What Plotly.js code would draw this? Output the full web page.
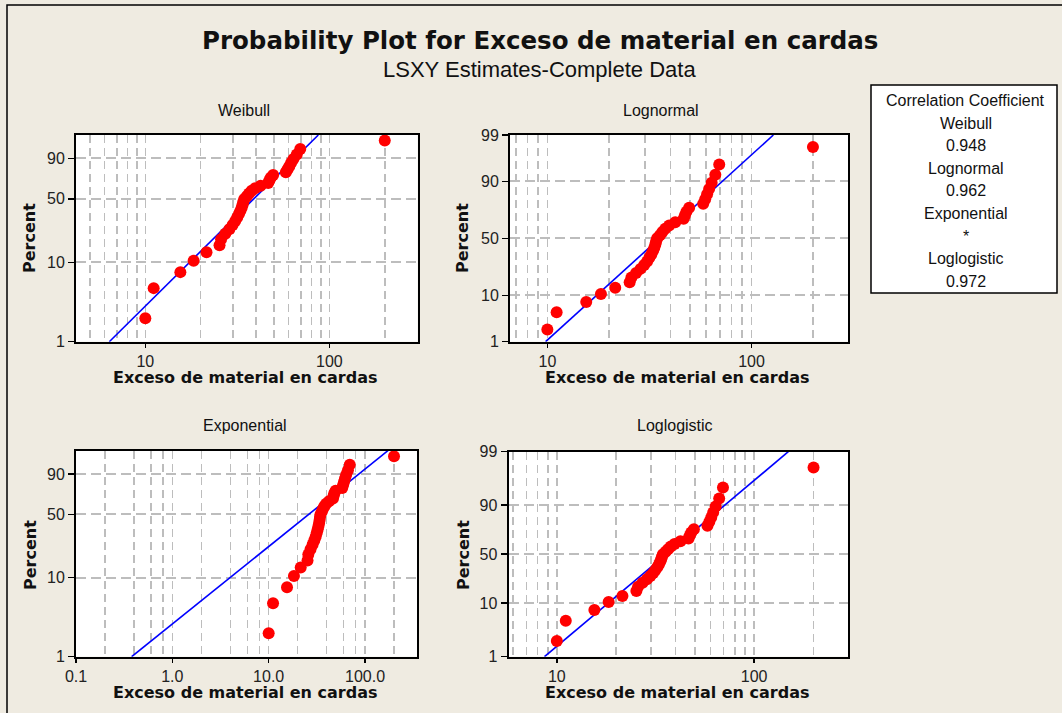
<!DOCTYPE html>
<html>
<head>
<meta charset="utf-8">
<script src="https://cdn.plot.ly/plotly-3.0.1.min.js"></script>
<style>
html,body{margin:0;padding:0;background:#EFEBE1;}
#chart{width:1062px;height:713px;}
</style>
</head>
<body>
<div id="chart"></div>
<script>
// ---- Data ----
const excesoValues = [10.0, 11.1, 15.5, 18.3, 21.5, 25.3, 25.8, 27.2, 28.6, 29.8,
  30.8, 31.6, 32.3, 32.9, 33.4, 33.8, 34.1, 34.5, 35.6, 36.6,
  37.8, 39.5, 42.3, 46.5, 47.2, 48.0, 49.5, 58.0, 59.3, 60.6,
  62.0, 63.8, 66.5, 69.5, 200.0];
const percentValues = [2.0, 4.8, 7.6, 10.5, 13.3, 16.1, 18.9, 21.8, 24.6, 27.4,
  30.2, 33.1, 35.9, 38.7, 41.5, 44.4, 47.2, 50.0, 52.8, 55.6,
  58.5, 61.3, 64.1, 67.0, 69.8, 72.6, 75.4, 78.2, 81.1, 83.9,
  86.7, 89.5, 92.4, 95.2, 98.0];

// fitted lines (end points)
const weibullFitX = [6.37, 87.1];
const weibullFitP = [1, 99];
const lognormalFitX = [9.8, 128];
const lognormalFitP = [1, 99];
const exponentialFitX = [0.378, 173];
const exponentialFitP = [1, 99];
const loglogisticFitX = [8.66, 149];
const loglogisticFitP = [1, 99];

// tick labels
const panelNames = ["Weibull", "Lognormal", "Exponential", "Loglogistic"];
const yTicksShort = [1, 10, 50, 90];
const yTicksLong = [1, 10, 50, 90, 99];
const xTicksMain = [10, 100];
const xTickTextMain = ["10", "100"];
const xTicksExp = [0.1, 1, 10, 100];
const xTickTextExp = ["0.1", "1.0", "10.0", "100.0"];

const legendTitle = "Correlation Coefficient";
const legendNames = ["Weibull", "Lognormal", "Exponential", "Loglogistic"];
const legendValues = ["0.948", "0.962", "*", "0.972"];

const mainTitle = "Probability Plot for Exceso de material en cardas";
const subTitle = "LSXY Estimates-Complete Data";
const xTitle = "Exceso de material en cardas";
const yTitle = "Percent";

// ---- probability scale transforms ----
function weib(p){ return Math.log(-Math.log(1 - p/100)); }
function logis(p){ return Math.log(p/(100 - p)); }
function norminv(pp){
  const p = pp/100;
  const a=[-3.969683028665376e+01,2.209460984245205e+02,-2.759285104469687e+02,1.383577518672690e+02,-3.066479806614716e+01,2.506628277459239e+00];
  const b=[-5.447609879822406e+01,1.615858368580409e+02,-1.556989798598866e+02,6.680131188771972e+01,-1.328068155288572e+01];
  const c=[-7.784894002430293e-03,-3.223964580411365e-01,-2.400758277161838e+00,-2.549732539343734e+00,4.374664141464968e+00,2.938163982698783e+00];
  const d=[7.784695709041462e-03,3.224671290700398e-01,2.445134137142996e+00,3.754408661907416e+00];
  const pl=0.02425, ph=1-pl;
  let q,r;
  if(p<pl){ q=Math.sqrt(-2*Math.log(p));
    return (((((c[0]*q+c[1])*q+c[2])*q+c[3])*q+c[4])*q+c[5])/((((d[0]*q+d[1])*q+d[2])*q+d[3])*q+1); }
  if(p<=ph){ q=p-0.5; r=q*q;
    return (((((a[0]*r+a[1])*r+a[2])*r+a[3])*r+a[4])*r+a[5])*q/(((((b[0]*r+b[1])*r+b[2])*r+b[3])*r+b[4])*r+1); }
  q=Math.sqrt(-2*Math.log(1-p));
  return -(((((c[0]*q+c[1])*q+c[2])*q+c[3])*q+c[4])*q+c[5])/((((d[0]*q+d[1])*q+d[2])*q+d[3])*q+1);
}

const W = 1062, H = 713;
const px = v => v / W;
const py = v => 1 - v / H;

const FONT = "Liberation Sans";
const BFONT = "DejaVu Sans";
const GRID = "#BDBDBD";

function xAxis(domain, range, tickvals, ticktext, minorvals, anchor){
  return {
    type: "log", domain: domain, range: range, anchor: anchor,
    tickmode: "array", tickvals: tickvals, ticktext: ticktext,
    ticks: "outside", ticklen: 4, tickwidth: 1.5, tickcolor: "#000",
    showgrid: true, gridcolor: GRID, gridwidth: 1.5, griddash: "8px,5px",
    minor: {tickmode: "array", tickvals: minorvals, showgrid: true, gridcolor: GRID, gridwidth: 1.5, griddash: "8px,5px", ticks: ""},
    showline: true, mirror: true, linecolor: "#000", linewidth: 2,
    zeroline: false, fixedrange: true,
    tickfont: {family: FONT, size: 16, color: "#222"}
  };
}
function yAxis(domain, f, ticks, anchor){
  return {
    type: "linear", domain: domain, range: [f(1), f(99)], anchor: anchor,
    tickmode: "array", tickvals: ticks.map(f), ticktext: ticks.map(String),
    ticks: "outside", ticklen: 6, tickwidth: 1.5, tickcolor: "#000",
    showgrid: true, gridcolor: GRID, gridwidth: 2, griddash: "10px,5px",
    showline: true, mirror: true, linecolor: "#000", linewidth: 2,
    zeroline: false, fixedrange: true,
    tickfont: {family: FONT, size: 16, color: "#222"}
  };
}

const minorMain = [4,5,6,7,8,9,20,30,40,50,60,70,80,90,200,300];
const minorExp = [0.2,0.4,0.6,0.8,2,4,6,8,20,40,60,80,200];

const panels = [
  {f: weib, fx: weibullFitX, fp: weibullFitP, xa: "x", ya: "y"},
  {f: norminv, fx: lognormalFitX, fp: lognormalFitP, xa: "x2", ya: "y2"},
  {f: weib, fx: exponentialFitX, fp: exponentialFitP, xa: "x3", ya: "y3"},
  {f: logis, fx: loglogisticFitX, fp: loglogisticFitP, xa: "x4", ya: "y4"}
];

const traces = [];
panels.forEach(pn => {
  traces.push({x: pn.fx, y: pn.fp.map(pn.f), xaxis: pn.xa, yaxis: pn.ya, mode: "lines",
    line: {color: "#0000FF", width: 1.6}, hoverinfo: "skip", showlegend: false, cliponaxis: true});
  traces.push({x: excesoValues, y: percentValues.map(pn.f), xaxis: pn.xa, yaxis: pn.ya, mode: "markers",
    marker: {color: "#FF0000", size: 12, line: {width: 0}}, showlegend: false, cliponaxis: false});
});

const annotations = [];
function addText(text, x, y, size, bold, angle, family){
  annotations.push({text: bold ? "<b>" + text + "</b>" : text, x: px(x), y: py(y), xref: "paper", yref: "paper",
    xanchor: "center", yanchor: "middle", showarrow: false, textangle: angle || 0,
    font: {family: family || FONT, size: size, color: "#111"}});
}
addText(mainTitle, 540, 40, 24.5, true, 0, BFONT);
addText(subTitle, 539, 70, 22, false);
const panelTitlePos = [[244,111],[661,111],[245,425],[675,425]];
panelNames.forEach((n,i) => addText(n, panelTitlePos[i][0], panelTitlePos[i][1], 16, false));
const xTitlePos = [[245,377],[677,377],[245,692],[677,692]];
xTitlePos.forEach(p => addText(xTitle, p[0], p[1], 16, true, 0, BFONT));
const yTitlePos = [[30,238],[463,238],[30,555],[463,555]];
yTitlePos.forEach(p => addText(yTitle, p[0], p[1], 16, true, -90, BFONT));

// legend box texts
const legendLines = [legendTitle];
legendNames.forEach((n,i) => { legendLines.push(n); legendLines.push(legendValues[i]); });
legendLines.forEach((t,i) => addText(t, 966, 100.5 + 22.6*i, 16, false));

const shapes = [
  {type: "rect", xref: "paper", yref: "paper", x0: px(7), x1: px(1100), y0: py(760), y1: py(5),
   line: {color: "#000", width: 1.5}, fillcolor: "rgba(0,0,0,0)", layer: "below"},
  {type: "rect", xref: "paper", yref: "paper", x0: px(871), x1: px(1057), y0: py(293), y1: py(85),
   line: {color: "#000", width: 1.5}, fillcolor: "#FFFFFF", layer: "below"}
];

const layout = {
  width: W, height: H, margin: {l: 0, r: 0, t: 0, b: 0},
  paper_bgcolor: "#EFEBE1", plot_bgcolor: "#FFFFFF",
  showlegend: false,
  xaxis: xAxis([px(76), px(417.7)], [Math.log10(4.2), Math.log10(302)], xTicksMain, xTickTextMain, minorMain, "y"),
  yaxis: yAxis([py(341.7), py(135)], weib, yTicksShort, "x"),
  xaxis2: xAxis([px(510), px(848)], [Math.log10(6.56), Math.log10(297)], xTicksMain, xTickTextMain, minorMain, "y2"),
  yaxis2: yAxis([py(341.7), py(135)], norminv, yTicksLong, "x2"),
  xaxis3: xAxis([px(76), px(417.3)], [-1, Math.log10(349)], xTicksExp, xTickTextExp, minorExp, "y3"),
  yaxis3: yAxis([py(656.7), py(450.7)], weib, yTicksShort, "x3"),
  xaxis4: xAxis([px(508.5), px(848.3)], [Math.log10(5.69), Math.log10(300)], xTicksMain, xTickTextMain, minorMain, "y4"),
  yaxis4: yAxis([py(656.7), py(451.7)], logis, yTicksLong, "x4"),
  annotations: annotations,
  shapes: shapes
};

Plotly.newPlot("chart", traces, layout, {staticPlot: true, displayModeBar: false});
</script>
</body>
</html>
